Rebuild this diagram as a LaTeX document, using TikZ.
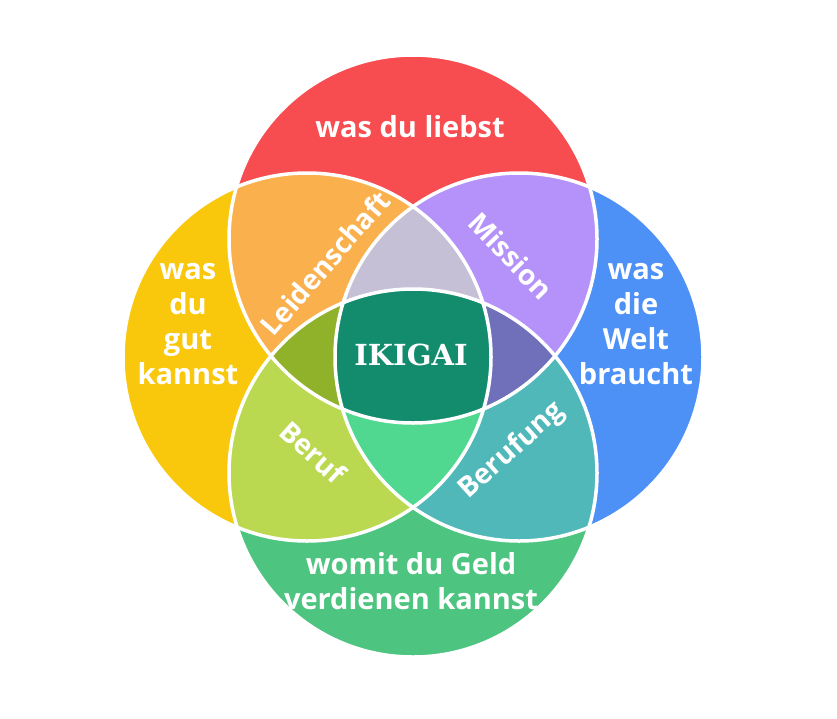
\documentclass[tikz,border=0pt]{standalone}
\usepackage{fontspec}
\setmainfont{Open Sans}
\newfontfamily\ikifont{DejaVu Serif}
\definecolor{cT}{RGB}{247,76,80}
\definecolor{cL}{RGB}{249,200,12}
\definecolor{cR}{RGB}{77,145,247}
\definecolor{cB}{RGB}{77,196,127}
\definecolor{cTL}{RGB}{250,176,76}
\definecolor{cTR}{RGB}{181,146,250}
\definecolor{cLB}{RGB}{186,216,80}
\definecolor{cRB}{RGB}{80,184,185}
\definecolor{cTLR}{RGB}{198,192,214}
\definecolor{cTLB}{RGB}{143,178,42}
\definecolor{cTRB}{RGB}{112,112,186}
\definecolor{cLBR}{RGB}{80,216,145}
\definecolor{cALL}{RGB}{19,140,110}
\tikzset{
  lbl/.style={text=white,font=\fontsize{29}{35}\selectfont\bfseries,align=center,inner sep=0pt},
  rlbl/.style={lbl,font=\fontsize{28}{35}\selectfont\bfseries},
  ring/.style={draw=white,line width=3.5pt}
}
\begin{document}
\begin{tikzpicture}[x=1pt,y=-1pt]
\useasboundingbox (0,0) rectangle (837,718);
\fill[white] (0,0) rectangle (837,718);
\def\rr{184pt}
\coordinate (T) at (413,239);
\coordinate (L) at (307,357);
\coordinate (R) at (519,357);
\coordinate (B) at (413,473);
% single circles
\fill[cT] (T) circle (\rr);
\fill[cL] (L) circle (\rr);
\fill[cR] (R) circle (\rr);
\fill[cB] (B) circle (\rr);
% pairs
\begin{scope}\clip (T) circle (\rr); \fill[cTL] (L) circle (\rr); \fill[cTR] (R) circle (\rr);\end{scope}
\begin{scope}\clip (B) circle (\rr); \fill[cLB] (L) circle (\rr); \fill[cRB] (R) circle (\rr);\end{scope}
% triples
\begin{scope}\clip (L) circle (\rr); \clip (R) circle (\rr); \fill[cTLR] (T) circle (\rr); \fill[cLBR] (B) circle (\rr);\end{scope}
\begin{scope}\clip (T) circle (\rr); \clip (B) circle (\rr); \fill[cTLB] (L) circle (\rr); \fill[cTRB] (R) circle (\rr);\end{scope}
% all four
\begin{scope}\clip (T) circle (\rr); \clip (B) circle (\rr); \clip (L) circle (\rr); \fill[cALL] (R) circle (\rr);\end{scope}
% outlines
\draw[ring] (T) circle (\rr);
\draw[ring] (L) circle (\rr);
\draw[ring] (R) circle (\rr);
\draw[ring] (B) circle (\rr);
% labels
\node[lbl] (tT) at (410,127) {was du liebst};
\node[lbl] (tL) at (188,324) {was\\du\\gut\\kannst};
\node[lbl] (tR) at (636,324) {was\\die\\Welt\\braucht};
\node[lbl] (tB) at (411,581) {womit du Geld\\verdienen kannst};
\node[rlbl,rotate=49] (tTL) at (325,263) {Leidenschaft};
\node[rlbl,rotate=-46] (tTR) at (511,256) {Mission};
\node[rlbl,rotate=-42] (tLB) at (313,452) {Beruf};
\node[rlbl,rotate=42] (tRB) at (512,451) {Berufung};
\node[text=white,font=\fontsize{29}{32}\selectfont\ikifont\bfseries,inner sep=0pt] (iki) at (411,355) {IKIGAI};
\end{tikzpicture}
\end{document}
